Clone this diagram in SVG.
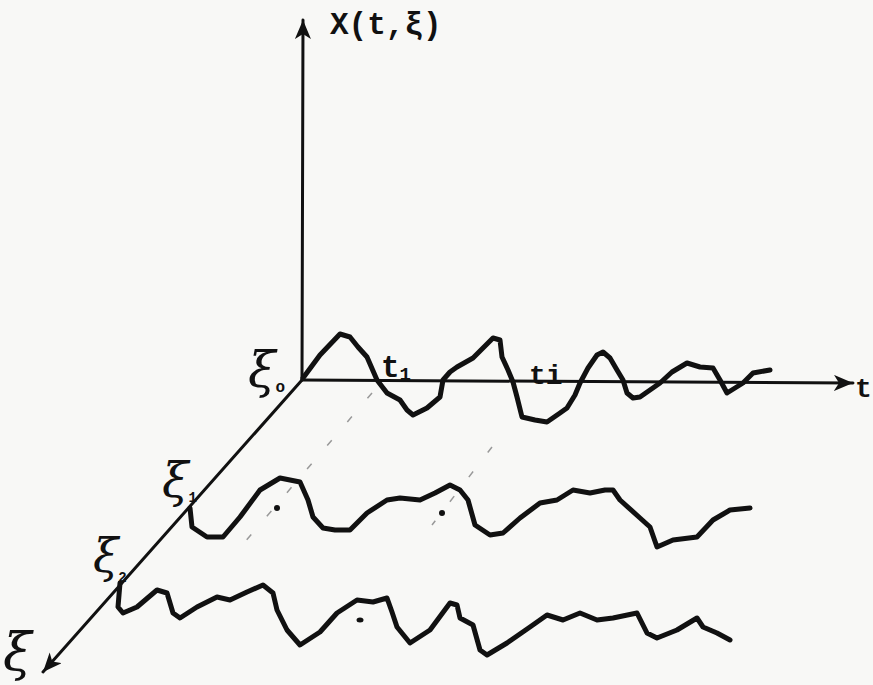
<svg xmlns="http://www.w3.org/2000/svg" width="873" height="685" viewBox="0 0 873 685">
  <style>
    .axis { stroke: #111; stroke-width: 3; fill: none; stroke-linecap: round; }
    .curve { stroke: #111; stroke-width: 5; fill: none; stroke-linejoin: round; stroke-linecap: round; }
    .guide { stroke: #999; stroke-width: 1.5; fill: none; stroke-dasharray: 7 24; }
    .mono { font-family: "Liberation Mono", "DejaVu Sans Mono", monospace; font-weight: bold; fill: #111; }
    .greek { font-family: "DejaVu Serif", "Liberation Serif", serif; font-style: italic; fill: #111; }
    .sub { font-family: "Liberation Mono", "DejaVu Sans Mono", monospace; font-style: normal; font-weight: bold; }
    .dot { fill: #111; }
  </style>
  <defs>
    <marker id="arrow" markerUnits="userSpaceOnUse" markerWidth="22" markerHeight="18" refX="19" refY="8" orient="auto">
      <path d="M0,0 L19,8 L0,16 L5,8 z" fill="#111"/>
    </marker>
  </defs>
  <rect width="873" height="685" fill="#f8f8f6"/>

  <g id="connectors">
    <line class="axis" x1="302" y1="380" x2="303" y2="20" marker-end="url(#arrow)"/>
    <line class="axis" x1="302" y1="380" x2="853" y2="383" marker-end="url(#arrow)"/>
    <line class="axis" x1="302" y1="380" x2="43" y2="672" marker-end="url(#arrow)"/>
    <line class="guide" x1="372" y1="393" x2="238" y2="550"/>
    <line class="guide" x1="492" y1="447" x2="432" y2="525"/>
  </g>

  <g id="curve0">
    <polyline class="curve" points="303,378 320,355 340,334 350,337 358,347 367,357 377,380 387,393 400,400 407,410 413,415 427,408 440,397 443,380 450,372 457,367 473,358 483,348 493,338 500,340 502,357 508,370 513,382 517,397 522,417 535,420 547,422 560,413 567,408 575,395 580,383 588,368 597,355 603,352 610,358 617,370 623,380 627,393 633,398 640,397 650,390 660,383 672,372 687,363 700,367 713,368 720,380 727,393 735,388 743,383 753,373 770,370"/>
  </g>

  <g id="curve1">
    <polyline class="curve" points="190,508 192,527 207,537 223,537 240,517 260,490 280,478 300,482 308,500 313,517 323,528 335,530 350,530 367,513 387,500 400,498 420,500 435,493 450,485 460,490 468,500 475,525 490,535 503,533 520,518 540,503 557,500 573,490 590,493 605,490 613,490 620,500 640,518 650,527 657,547 673,540 697,537 713,520 730,510 750,508"/>
    <circle class="dot" cx="277" cy="508" r="3"/>
    <circle class="dot" cx="442" cy="513" r="3"/>
  </g>

  <g id="curve2">
    <polyline class="curve" points="120,583 118,607 123,613 137,607 157,590 167,593 173,613 180,618 197,607 217,597 230,600 247,592 263,585 273,593 277,610 287,630 300,645 320,632 337,613 357,600 373,602 387,598 392,612 397,627 410,643 430,630 450,603 457,605 460,618 473,625 480,650 487,655 507,643 530,627 547,615 563,620 580,613 597,620 613,618 637,613 647,633 657,638 677,630 697,618 703,627 717,633 730,640"/>
    <ellipse class="dot" cx="360" cy="620" rx="3.5" ry="2.5"/>
  </g>

  <g id="labels">
    <text class="mono" x="330" y="34" font-size="31">X(t,ξ)</text>
    <text class="greek" x="248" y="387" font-size="50">ξ<tspan class="sub" font-size="16" dy="5">o</tspan></text>
    <text class="greek" x="162" y="497" font-size="48">ξ<tspan class="sub" font-size="14" dy="5">1</tspan></text>
    <text class="greek" x="93" y="572" font-size="46">ξ<tspan class="sub" font-size="14" dy="10">2</tspan></text>
    <text class="greek" x="3" y="670" font-size="52">ξ</text>
    <text class="mono" x="381" y="377" font-size="31">t<tspan font-size="19" dy="3">1</tspan></text>
    <text class="mono" x="529" y="384" font-size="28">ti</text>
    <text class="mono" x="855" y="397" font-size="28">t</text>
  </g>
</svg>
